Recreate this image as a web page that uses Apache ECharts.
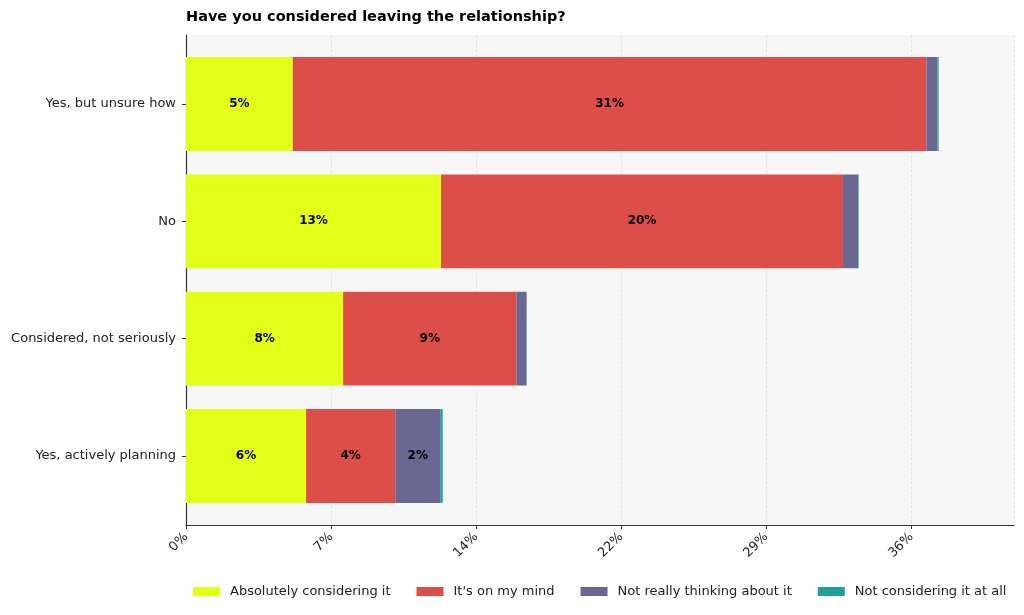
<!DOCTYPE html>
<html>
<head>
<meta charset="utf-8">
<script src="https://cdn.jsdelivr.net/npm/echarts@6/dist/echarts.min.js"></script>
<style>
  html, body { margin: 0; padding: 0; background: #fff; }
  #main { width: 1024px; height: 615px; }
</style>
</head>
<body>
<div id="main"></div>
<script>
// categories, top to bottom
const categories = ['Yes, but unsure how', 'No', 'Considered, not seriously', 'Yes, actively planning'];
const seriesNames = ['Absolutely considering it', "It's on my mind", 'Not really thinking about it', 'Not considering it at all'];

// percentages per category (same order as categories)
const absolutely = [5.3, 12.66, 7.8, 5.96];
const onMyMind = [31.45, 19.95, 8.6, 4.43];
const notReally = [0.55, 0.75, 0.5, 2.23];
const notAtAll = [0.06, 0.03, 0.02, 0.12];

const colors = ['#e2ff1a', '#dc4e48', '#6a6893', '#1f9e9a'];

const chart = echarts.init(document.getElementById('main'));
const font = 'DejaVu Sans';
const xMax = 41.1;

// frame grid is 35..525; bars sit in a slightly inset band (margins like matplotlib)
const frameTop = 35, frameBottom = 90;
const bandH = 117.33 * categories.length;
const barTop = frameTop + (490 - bandH) / 2;
const barBottom = 615 - barTop - bandH;

const makeSeries = (name, data, color) => ({
  name: name,
  type: 'bar',
  stack: 'total',
  xAxisIndex: 1,
  yAxisIndex: 1,
  data: data,
  barCategoryGap: '20%',
  itemStyle: { color: color },
  label: {
    show: true,
    position: 'inside',
    fontFamily: font,
    fontWeight: 'bold',
    fontSize: 12,
    color: '#000',
    formatter: p => (p.value >= 1.5 ? Math.round(p.value) + '%' : '')
  }
});

chart.setOption({
  backgroundColor: '#fff',
  textStyle: { fontFamily: font },
  title: {
    text: 'Have you considered leaving the relationship?',
    left: 181,
    top: 5,
    textStyle: { fontFamily: font, fontSize: 14.5, fontWeight: 'bold', color: '#000' }
  },
  legend: {
    bottom: 12,
    left: 188,
    itemWidth: 27,
    itemHeight: 9,
    itemGap: 26,
    icon: 'rect',
    textStyle: { fontFamily: font, fontSize: 13, color: '#222', padding: [0, 0, 0, 5] },
    data: seriesNames
  },
  grid: [
    {
      left: 186, right: 10, top: frameTop, bottom: frameBottom,
      show: true, backgroundColor: '#f7f7f7', borderWidth: 0
    },
    {
      left: 186, right: 10, top: barTop, bottom: barBottom,
      show: false
    }
  ],
  xAxis: [
    {
      gridIndex: 0,
      type: 'value',
      min: 0,
      max: xMax,
      interval: 7.2,
      axisLine: { show: true, lineStyle: { color: '#333', width: 1.2 } },
      axisTick: { show: true, length: 4, lineStyle: { color: '#333' } },
      axisLabel: {
        rotate: 45,
        fontSize: 13,
        color: '#222',
        margin: 10,
        showMaxLabel: false,
        formatter: v => Math.round(v) + '%'
      },
      splitLine: { show: true, lineStyle: { color: '#dddddd', type: 'dashed', width: 0.8 } }
    },
    {
      gridIndex: 1,
      type: 'value',
      min: 0,
      max: xMax,
      show: false
    }
  ],
  yAxis: [
    {
      gridIndex: 0,
      type: 'value',
      min: 0,
      max: 1,
      axisLine: { show: true, lineStyle: { color: '#333', width: 1.2 } },
      axisTick: { show: false },
      axisLabel: { show: false },
      splitLine: { show: false }
    },
    {
      gridIndex: 1,
      type: 'category',
      inverse: true,
      data: categories,
      axisLine: { show: false },
      axisTick: { show: true, length: 4, alignWithLabel: true, lineStyle: { color: '#333' } },
      axisLabel: { fontSize: 13, color: '#222', margin: 10 },
      splitLine: { show: false }
    }
  ],
  series: [
    makeSeries(seriesNames[0], absolutely, colors[0]),
    makeSeries(seriesNames[1], onMyMind, colors[1]),
    makeSeries(seriesNames[2], notReally, colors[2]),
    makeSeries(seriesNames[3], notAtAll, colors[3])
  ]
});
</script>
</body>
</html>
